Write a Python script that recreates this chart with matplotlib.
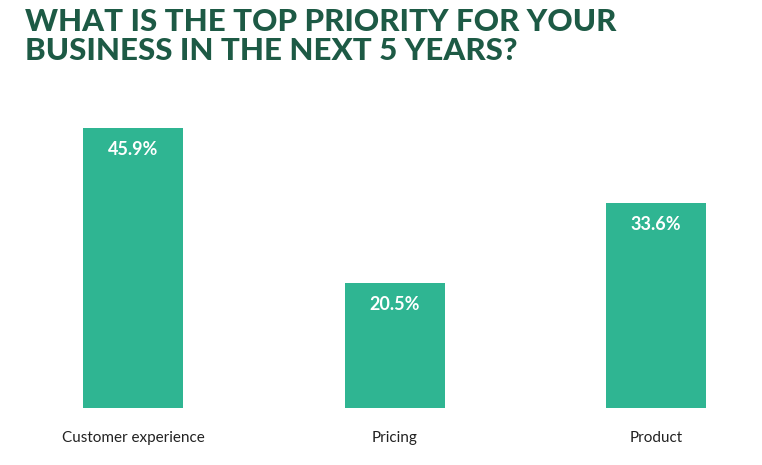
import matplotlib.pyplot as plt

categories = ["Customer experience", "Pricing", "Product"]
values = [45.9, 20.5, 33.6]
value_labels = ["45.9%", "20.5%", "33.6%"]
title = "WHAT IS THE TOP PRIORITY FOR YOUR\nBUSINESS IN THE NEXT 5 YEARS?"

W, H = 762, 465
fig = plt.figure(figsize=(W / 100, H / 100), dpi=100)
fig.patch.set_facecolor("white")

# axes spans whole width, y from pixel 110 to 408
ax = fig.add_axes([0, (H - 408) / H, 1, (408 - 110) / H])
px_per_unit = 261.5
ax.set_xlim(-133 / px_per_unit, (W - 133) / px_per_unit)
ax.set_ylim(0, 298 / 6.1)
ax.axis("off")

x = range(len(categories))
ax.bar(x, values, width=100 / px_per_unit, color="#2fb592")
for xi, v, lab, cat in zip(x, values, value_labels, categories):
    ax.text(xi, v - 2.2, lab, ha="center", va="top", color="white",
            fontsize=13, fontweight="bold", family="Lato")
    ax.text(xi, -4.9, cat, ha="center", va="center", color="#222222",
            fontsize=11, family="Lato", clip_on=False)

fig.text(25 / W, 1 - 8 / H, title, ha="left", va="top", color="#1d5a45",
         fontsize=22.5, fontweight="heavy", family="Lato", linespacing=1.05)

fig.savefig("out.png", dpi=100)
